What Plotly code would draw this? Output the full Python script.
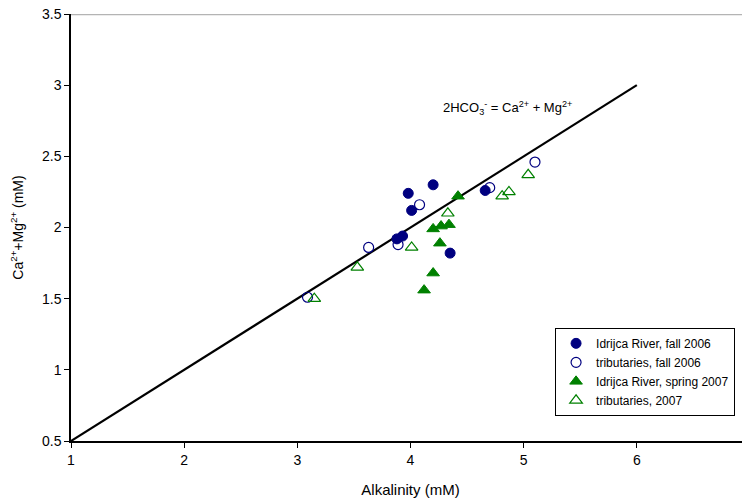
import plotly.graph_objects as go

# Data
idr_fall06_x = [3.98, 4.20, 4.01, 3.88, 3.93, 4.35, 4.66]
idr_fall06_y = [2.24, 2.30, 2.12, 1.92, 1.94, 1.82, 2.26]

trib_fall06_x = [3.09, 3.63, 3.89, 4.08, 4.70, 5.10]
trib_fall06_y = [1.51, 1.86, 1.88, 2.16, 2.28, 2.46]

idr_spr07_x = [4.42, 4.20, 4.27, 4.34, 4.26, 4.20, 4.12]
idr_spr07_y = [2.22, 1.99, 2.01, 2.02, 1.89, 1.68, 1.56]

trib_07_x = [3.15, 3.53, 4.01, 4.33, 4.81, 4.87, 5.04]
trib_07_y = [1.50, 1.72, 1.86, 2.10, 2.22, 2.25, 2.37]

line_x = [1, 6]
line_y = [0.5, 3]

x_range = [1, 7]
y_range = [0.5, 3.5]
x_ticks = [1, 2, 3, 4, 5, 6, 7]
y_ticks = [0.5, 1, 1.5, 2, 2.5, 3, 3.5]

navy = "#000080"
green = "#008000"
font = "Liberation Sans, Arial, sans-serif"

fig = go.Figure()
fig.add_trace(go.Scatter(x=line_x, y=line_y, mode="lines",
                         line=dict(color="black", width=2.2),
                         showlegend=False, hoverinfo="skip"))
fig.add_trace(go.Scatter(x=idr_fall06_x, y=idr_fall06_y, mode="markers",
                         name="Idrijca River, fall 2006",
                         marker=dict(symbol="circle", size=10, color=navy,
                                     line=dict(color=navy, width=1))))
fig.add_trace(go.Scatter(x=trib_fall06_x, y=trib_fall06_y, mode="markers",
                         name="tributaries, fall 2006",
                         marker=dict(symbol="circle-open", size=10, color=navy,
                                     line=dict(color=navy, width=1.2))))
fig.add_trace(go.Scatter(x=idr_spr07_x, y=idr_spr07_y, mode="markers",
                         name="Idrijca River, spring 2007",
                         marker=dict(symbol="triangle-up", size=11, color=green,
                                     line=dict(color=green, width=1))))
fig.add_trace(go.Scatter(x=trib_07_x, y=trib_07_y, mode="markers",
                         name="tributaries, 2007",
                         marker=dict(symbol="triangle-up-open", size=11, color=green,
                                     line=dict(color=green, width=1.2))))

fig.add_shape(type="line", xref="paper", yref="y", x0=0, x1=1,
              y0=y_range[1], y1=y_range[1],
              line=dict(color="#b4b4b4", width=2.5), layer="above")

fig.add_annotation(x=4.86, y=2.84, xref="x", yref="y",
                   text="2HCO<sub>3</sub><sup>-</sup> = Ca<sup>2+</sup> + Mg<sup>2+</sup>",
                   showarrow=False, font=dict(family=font, size=13, color="black"))

# The page body adds an 8 px offset at top/left, so the figure is sized to fill the rest
fig.update_layout(
    width=742, height=494,
    margin=dict(l=63, r=0, t=6, b=61),
    paper_bgcolor="white", plot_bgcolor="white",
    font=dict(family=font, size=14, color="black"),
    legend=dict(x=0.978, y=0.265, xanchor="right", yanchor="top",
                bordercolor="black", borderwidth=1, bgcolor="white",
                font=dict(family=font, size=12), tracegroupgap=0,
                itemwidth=30),
    xaxis=dict(range=x_range, tickvals=x_ticks, showgrid=False, zeroline=False,
               showline=True, linecolor="black", linewidth=1.5,
               ticks="outside", ticklen=5, tickcolor="black",
               automargin=False, ticklabeloverflow="allow",
               tickfont=dict(size=14),
               title=dict(text="Alkalinity (mM)", font=dict(size=15), standoff=18)),
    yaxis=dict(range=y_range, tickvals=y_ticks, showgrid=False, zeroline=False,
               showline=True, linecolor="black", linewidth=1.5,
               ticks="outside", ticklen=5, tickcolor="black",
               automargin=False, ticklabeloverflow="allow",
               tickfont=dict(size=14),
               title=dict(text="Ca<sup>2+</sup>+Mg<sup>2+</sup> (mM)", font=dict(size=14),
                          standoff=16)),
)

fig.write_html("out.html")
